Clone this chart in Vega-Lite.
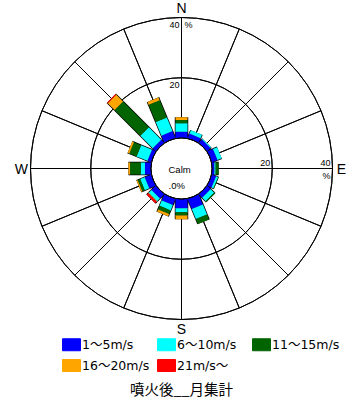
{
  "$schema": "https://vega.github.io/schema/vega-lite/v6.json",
  "width": 349,
  "height": 337,
  "autosize": {"type": "none"},
  "padding": {"left": 7, "top": 0, "right": 0, "bottom": 67},
  "background": "white",
  "config": {"view": {"stroke": null}, "font": "DejaVu Sans"},
  "title": {"text": "噴火後__月集計", "orient": "bottom", "anchor": "middle", "font": "Noto Sans CJK JP", "fontSize": 14.5, "fontWeight": "normal", "color": "black", "offset": 10},
  "datasets": {
    "bars": [
      {"dir": 0, "k": 1, "speed": "1～5m/s", "pct": 2.1},
      {"dir": 0, "k": 2, "speed": "6～10m/s", "pct": 2.8},
      {"dir": 0, "k": 3, "speed": "11～15m/s", "pct": 1.1},
      {"dir": 0, "k": 4, "speed": "16～20m/s", "pct": 0.9},
      {"dir": 22.5, "k": 1, "speed": "1～5m/s", "pct": 1.6},
      {"dir": 22.5, "k": 2, "speed": "6～10m/s", "pct": 1.2},
      {"dir": 45, "k": 1, "speed": "1～5m/s", "pct": 1.5},
      {"dir": 45, "k": 2, "speed": "6～10m/s", "pct": 0.3},
      {"dir": 67.5, "k": 1, "speed": "1～5m/s", "pct": 2.0},
      {"dir": 67.5, "k": 2, "speed": "6～10m/s", "pct": 1.5},
      {"dir": 90, "k": 1, "speed": "1～5m/s", "pct": 0.8},
      {"dir": 90, "k": 2, "speed": "6～10m/s", "pct": 0.4},
      {"dir": 90, "k": 3, "speed": "11～15m/s", "pct": 1.0},
      {"dir": 112.5, "k": 1, "speed": "1～5m/s", "pct": 1.5},
      {"dir": 112.5, "k": 2, "speed": "6～10m/s", "pct": 0.7},
      {"dir": 112.5, "k": 3, "speed": "11～15m/s", "pct": 0.2},
      {"dir": 135, "k": 1, "speed": "1～5m/s", "pct": 1.6},
      {"dir": 135, "k": 2, "speed": "6～10m/s", "pct": 1.6},
      {"dir": 135, "k": 3, "speed": "11～15m/s", "pct": 0.4},
      {"dir": 157.5, "k": 1, "speed": "1～5m/s", "pct": 3.6},
      {"dir": 157.5, "k": 2, "speed": "6～10m/s", "pct": 3.6},
      {"dir": 157.5, "k": 3, "speed": "11～15m/s", "pct": 1.8},
      {"dir": 180, "k": 1, "speed": "1～5m/s", "pct": 3.1},
      {"dir": 180, "k": 2, "speed": "6～10m/s", "pct": 1.3},
      {"dir": 180, "k": 3, "speed": "11～15m/s", "pct": 1.1},
      {"dir": 180, "k": 4, "speed": "16～20m/s", "pct": 1.2},
      {"dir": 202.5, "k": 1, "speed": "1～5m/s", "pct": 2.2},
      {"dir": 202.5, "k": 2, "speed": "6～10m/s", "pct": 1.9},
      {"dir": 202.5, "k": 3, "speed": "11～15m/s", "pct": 1.3},
      {"dir": 202.5, "k": 4, "speed": "16～20m/s", "pct": 0.85},
      {"dir": 225, "k": 1, "speed": "1～5m/s", "pct": 2.0},
      {"dir": 225, "k": 2, "speed": "6～10m/s", "pct": 1.3},
      {"dir": 225, "k": 4, "speed": "16～20m/s", "pct": 0.2},
      {"dir": 225, "k": 5, "speed": "21m/s～", "pct": 0.7},
      {"dir": 247.5, "k": 1, "speed": "1～5m/s", "pct": 2.3},
      {"dir": 247.5, "k": 2, "speed": "6～10m/s", "pct": 1.6},
      {"dir": 247.5, "k": 3, "speed": "11～15m/s", "pct": 0.9},
      {"dir": 247.5, "k": 4, "speed": "16～20m/s", "pct": 0.4},
      {"dir": 270, "k": 1, "speed": "1～5m/s", "pct": 2.0},
      {"dir": 270, "k": 2, "speed": "6～10m/s", "pct": 1.4},
      {"dir": 270, "k": 3, "speed": "11～15m/s", "pct": 3.55},
      {"dir": 270, "k": 4, "speed": "16～20m/s", "pct": 0.55},
      {"dir": 292.5, "k": 1, "speed": "1～5m/s", "pct": 1.3},
      {"dir": 292.5, "k": 2, "speed": "6～10m/s", "pct": 3.9},
      {"dir": 292.5, "k": 3, "speed": "11～15m/s", "pct": 2.6},
      {"dir": 292.5, "k": 4, "speed": "16～20m/s", "pct": 0.6},
      {"dir": 315, "k": 1, "speed": "1～5m/s", "pct": 1.4},
      {"dir": 315, "k": 2, "speed": "6～10m/s", "pct": 5.8},
      {"dir": 315, "k": 3, "speed": "11～15m/s", "pct": 12.1},
      {"dir": 315, "k": 4, "speed": "16～20m/s", "pct": 3.2},
      {"dir": 315, "k": 5, "speed": "21m/s～", "pct": 0.3},
      {"dir": 337.5, "k": 1, "speed": "1～5m/s", "pct": 2.5},
      {"dir": 337.5, "k": 2, "speed": "6～10m/s", "pct": 4.9},
      {"dir": 337.5, "k": 3, "speed": "11～15m/s", "pct": 6.2},
      {"dir": 337.5, "k": 4, "speed": "16～20m/s", "pct": 1.0}
    ],
    "dirs": [
      {"dir": 0}, {"dir": 22.5}, {"dir": 45}, {"dir": 67.5},
      {"dir": 90}, {"dir": 112.5}, {"dir": 135}, {"dir": 157.5},
      {"dir": 180}, {"dir": 202.5}, {"dir": 225}, {"dir": 247.5},
      {"dir": 270}, {"dir": 292.5}, {"dir": 315}, {"dir": 337.5}
    ],
    "rings": [{"ring": 20}, {"ring": 40}]
  },
  "layer": [
    {
      "data": {"name": "dirs"},
      "mark": {"type": "arc", "filled": false, "stroke": "black", "strokeWidth": 1},
      "encoding": {
        "theta": {"field": "dir", "type": "quantitative", "stack": null, "scale": {"type": "linear", "domain": [0, 360], "range": [0, 6.283185307179586]}},
        "theta2": {"field": "dir"},
        "radius": {"datum": 40, "type": "quantitative", "scale": {"type": "linear", "domain": [0, 40], "range": [30.5, 151], "zero": false}},
        "radius2": {"datum": 0}
      }
    },
    {
      "data": {"name": "rings"},
      "mark": {"type": "arc", "filled": false, "stroke": "black", "strokeWidth": 1},
      "encoding": {
        "theta": {"datum": 0, "type": "quantitative"},
        "theta2": {"datum": 360},
        "radius": {"field": "ring", "type": "quantitative"},
        "radius2": {"field": "ring"}
      }
    },
    {
      "data": {"name": "bars"},
      "transform": [
        {"stack": "pct", "groupby": ["dir"], "sort": [{"field": "k", "order": "ascending"}], "as": ["v0", "v1"]}
      ],
      "mark": {"type": "arc", "filled": false, "stroke": "black", "strokeWidth": 13.5, "strokeCap": "butt", "strokeJoin": "bevel"},
      "encoding": {
        "theta": {"field": "dir", "type": "quantitative", "stack": null},
        "theta2": {"field": "dir"},
        "radius": {"field": "v1", "type": "quantitative", "stack": null},
        "radius2": {"field": "v0"}
      }
    },
    {
      "data": {"name": "bars"},
      "transform": [
        {"stack": "pct", "groupby": ["dir"], "sort": [{"field": "k", "order": "ascending"}], "as": ["v0", "v1"]}
      ],
      "mark": {"type": "arc", "strokeWidth": 12, "strokeCap": "butt", "strokeJoin": "bevel", "opacity": 1},
      "encoding": {
        "theta": {"field": "dir", "type": "quantitative", "stack": null},
        "theta2": {"field": "dir"},
        "radius": {"field": "v1", "type": "quantitative", "stack": null},
        "radius2": {"field": "v0"},
        "stroke": {
          "field": "speed", "type": "nominal",
          "scale": {"domain": ["1～5m/s", "6～10m/s", "11～15m/s", "16～20m/s", "21m/s～"], "range": ["#0000ff", "#00ffff", "#006400", "#ffa500", "#ff0000"]},
          "legend": null
        },
        "fill": {
          "field": "speed", "type": "nominal",
          "scale": {"domain": ["1～5m/s", "6～10m/s", "11～15m/s", "16～20m/s", "21m/s～"], "range": ["#0000ff", "#00ffff", "#006400", "#ffa500", "#ff0000"]},
          "legend": {
            "orient": "none", "legendX": 58, "legendY": 338, "columns": 3, "direction": "horizontal", "title": null,
            "symbolType": "M-1.5,-1H1.5V1H-1.5Z", "symbolSize": 144, "symbolStrokeColor": "black", "symbolStrokeWidth": 1, "symbolOpacity": 1,
            "labelFont": "DejaVu Sans, Noto Sans CJK JP", "labelFontSize": 12.5, "labelColor": "black",
            "labelOffset": 4, "columnPadding": 5, "rowPadding": 4, "gridAlign": "all", "padding": 0,
            "encode": {"symbols": {"update": {"stroke": {"value": "black"}, "strokeWidth": {"value": 1}, "opacity": {"value": 1}}}}
          }
        }
      }
    },
    {
      "data": {"values": [{"ring": 0}]},
      "mark": {"type": "arc", "filled": false, "stroke": "black", "strokeWidth": 1},
      "encoding": {
        "theta": {"datum": 0, "type": "quantitative"},
        "theta2": {"datum": 360},
        "radius": {"field": "ring", "type": "quantitative"},
        "radius2": {"field": "ring"}
      }
    },
    {
      "data": {"values": [{"d": "N", "dir": 0}, {"d": "E", "dir": 90}, {"d": "S", "dir": 180}, {"d": "W", "dir": 270}]},
      "mark": {"type": "text", "font": "Liberation Sans", "fontSize": 14, "align": "center", "baseline": "middle", "dy": 1, "color": "black"},
      "encoding": {
        "theta": {"field": "dir", "type": "quantitative"},
        "radius": {"datum": 43, "type": "quantitative"},
        "text": {"field": "d"}
      }
    },
    {
      "data": {"values": [{"t": "20", "dir": 0, "r": 20}, {"t": "40", "dir": 0, "r": 40}, {"t": "%", "dir": 90, "r": 40}]},
      "mark": {"type": "text", "font": "Liberation Sans", "fontSize": 9, "align": "right", "baseline": "top", "dx": -2, "dy": 3, "color": "black"},
      "encoding": {
        "theta": {"field": "dir", "type": "quantitative"},
        "radius": {"field": "r", "type": "quantitative"},
        "text": {"field": "t"}
      }
    },
    {
      "data": {"values": [{"t": "%", "dir": 0, "r": 40}]},
      "mark": {"type": "text", "font": "Liberation Sans", "fontSize": 9, "align": "left", "baseline": "top", "dx": 3, "dy": 3, "color": "black"},
      "encoding": {
        "theta": {"field": "dir", "type": "quantitative"},
        "radius": {"field": "r", "type": "quantitative"},
        "text": {"field": "t"}
      }
    },
    {
      "data": {"values": [{"t": "20", "dir": 90, "r": 20}, {"t": "40", "dir": 90, "r": 40}]},
      "mark": {"type": "text", "font": "Liberation Sans", "fontSize": 9, "align": "right", "baseline": "bottom", "dx": -2, "dy": -1, "color": "black"},
      "encoding": {
        "theta": {"field": "dir", "type": "quantitative"},
        "radius": {"field": "r", "type": "quantitative"},
        "text": {"field": "t"}
      }
    },
    {
      "data": {"values": [{"calm": ".0%"}]},
      "mark": {"type": "text", "font": "Liberation Sans", "fontSize": 9.5, "align": "left", "baseline": "middle", "dx": -13, "dy": 1, "lineHeight": 16, "color": "black"},
      "encoding": {
        "theta": {"value": 0},
        "radius": {"value": 0},
        "text": {"value": ["Calm", ".0%"]}
      }
    }
  ]
}
